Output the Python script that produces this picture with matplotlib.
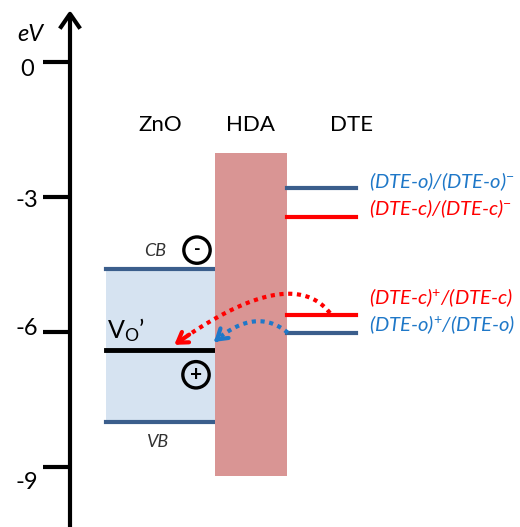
import numpy as np
import matplotlib.pyplot as plt
from matplotlib.patches import Rectangle

plt.rcParams['font.family'] = ['Lato', 'DejaVu Sans']
plt.rcParams['mathtext.fontset'] = 'custom'
plt.rcParams['mathtext.rm'] = 'Lato'
plt.rcParams['mathtext.it'] = 'Lato:italic'

# energy levels (eV)
ticks = [0, -3, -6, -9]
zno_cb = -4.6
zno_vb = -8.0
vo_level = -6.4
hda_top, hda_bottom = -2.02, -9.2
dte_levels = [-2.8, -3.44, -5.62, -6.02]
dte_labels = ['(DTE-o)/(DTE-o)$^{-}$', '(DTE-c)/(DTE-c)$^{-}$',
              '(DTE-c)$^{+}$/(DTE-c)', '(DTE-o)$^{+}$/(DTE-o)']
dte_label_y = [-2.67, -3.27, -5.24, -5.84]
dte_line_colors = ['#3b5e8c', '#ff0000', '#ff0000', '#3b5e8c']
dte_text_colors = ['#1f78c8', '#ff0000', '#ff0000', '#1f78c8']

fig = plt.figure(figsize=(5.2, 5.27), dpi=100)
ax = fig.add_axes([0, 0, 1, 1])
ax.set_xlim(0, 520)
ax.set_ylim(-10.333, 1.378)
ax.axis('off')

# energy axis with arrow head
ax.plot([70, 70], [-10.4, 1.05], color='black', lw=3, solid_capstyle='butt')
ax.plot([61, 70, 79], [0.78, 1.07, 0.78], color='black', lw=3)
tick_label_y = [-0.17, -3.07, -5.93, -9.35]
for t, ly in zip(ticks, tick_label_y):
    ax.plot([43, 70], [t, t], color='black', lw=3, solid_capstyle='butt')
    ax.text(27, ly, str(t), ha='center', va='center', fontsize=17)
ax.text(30, 0.62, 'eV', ha='center', va='center', fontsize=17, style='italic')

# column headers
ax.text(160, -1.4, 'ZnO', ha='center', va='center', fontsize=16)
ax.text(251, -1.4, 'HDA', ha='center', va='center', fontsize=16)
ax.text(352, -1.4, 'DTE', ha='center', va='center', fontsize=16)

# ZnO band
ax.add_patch(Rectangle((106, zno_vb), 109, zno_cb - zno_vb,
                       facecolor='#d6e3f1', edgecolor='none', zorder=1))
ax.plot([106, 215], [zno_cb, zno_cb], color='#3b5e8c', lw=3, zorder=2)
ax.plot([106, 215], [zno_vb, zno_vb], color='#3b5e8c', lw=3, zorder=2)
ax.plot([106, 215], [vo_level, vo_level], color='black', lw=3.5, zorder=2)
ax.text(155, zno_cb + 0.4, 'CB', ha='center', va='center', fontsize=13,
        style='italic', color='#333333')
ax.text(157, zno_vb - 0.45, 'VB', ha='center', va='center', fontsize=13,
        style='italic', color='#333333')
ax.text(107, vo_level + 0.14, "V$_{\\mathrm{O}}$’", ha='left', va='bottom',
        fontsize=18)

# electron / hole symbols
ax.scatter([197, 196], [zno_cb + 0.42, vo_level - 0.55], s=360,
           facecolors='none', edgecolors='black', linewidths=2.4, zorder=4)
ax.text(197, zno_cb + 0.44, '-', ha='center', va='center', fontsize=13,
        fontweight='bold', zorder=5)
ax.text(196, vo_level - 0.55, '+', ha='center', va='center', fontsize=15,
        fontweight='bold', zorder=5)

# HDA barrier
ax.add_patch(Rectangle((215, hda_bottom), 72, hda_top - hda_bottom,
                       facecolor='#d99594', edgecolor='none', zorder=3))

# DTE levels
for lvl, lbl, ly, lc, tc in zip(dte_levels, dte_labels, dte_label_y,
                                dte_line_colors, dte_text_colors):
    ax.plot([287, 356], [lvl, lvl], color=lc, lw=3, zorder=3)
    ax.text(369, ly, lbl, ha='left', va='center', fontsize=14.5,
            style='italic', color=tc)


def dotted_arrow(p0, c, p1, color):
    t = np.linspace(0, 1, 60)
    x = (1 - t) ** 2 * p0[0] + 2 * (1 - t) * t * c[0] + t ** 2 * p1[0]
    y = (1 - t) ** 2 * p0[1] + 2 * (1 - t) * t * c[1] + t ** 2 * p1[1]
    ax.plot(x[:-4], y[:-4], color=color, lw=3, ls=(0, (1, 1.1)), zorder=6)
    ax.annotate('', xy=(x[-1], y[-1]), xytext=(x[-6], y[-6]),
                arrowprops=dict(arrowstyle='->,head_length=0.7,head_width=0.45',
                                color=color, lw=3), zorder=6)


# charge transfer arrows
dotted_arrow((330, -5.58), (290, -4.44), (172, -6.32), '#ff0000')
dotted_arrow((288, -6.02), (255, -5.4), (212, -6.26), '#1f78c8')

fig.savefig('out.png', dpi=100)
